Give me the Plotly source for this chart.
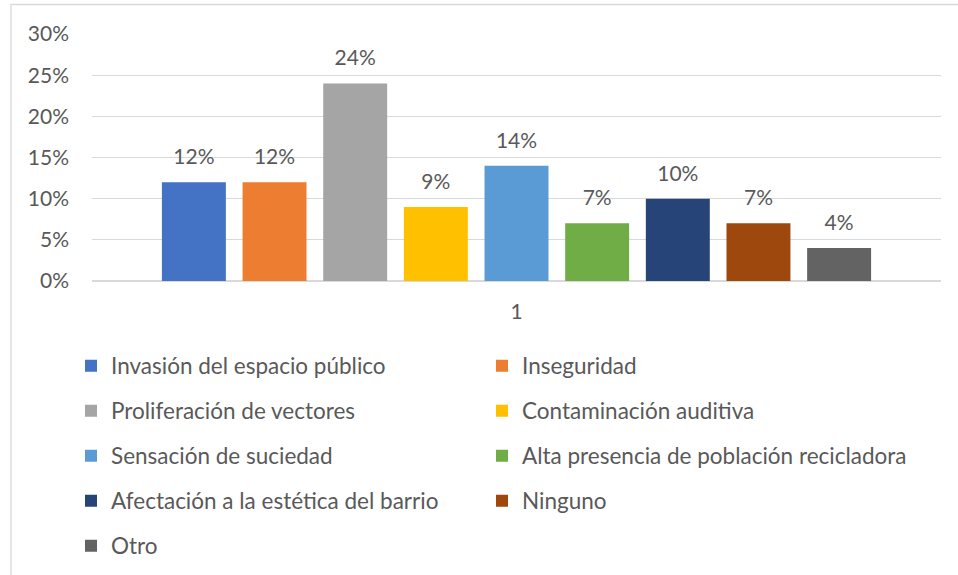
import plotly.graph_objects as go

categories = ["1"]
series_names = [
    "Invasión del espacio público",
    "Inseguridad",
    "Proliferación de vectores",
    "Contaminación auditiva",
    "Sensación de suciedad",
    "Alta presencia de población recicladora",
    "Afectación a la estética del barrio",
    "Ninguno",
    "Otro",
]
series_values = [0.12, 0.12, 0.24, 0.09, 0.14, 0.07, 0.10, 0.07, 0.04]
series_colors = ["#4472C4", "#ED7D31", "#A5A5A5", "#FFC000", "#5B9BD5",
                 "#70AD47", "#264478", "#9E480E", "#636363"]
y_tick_vals = [0, 0.05, 0.10, 0.15, 0.20, 0.25, 0.30]
y_tick_text = ["0%", "5%", "10%", "15%", "20%", "25%", "30%"]

FONT = "Lato"
TXT = "#595959"
FS = 21
LFS = 22.5

legend_ids = ["legend"] + ["legend%d" % k for k in range(2, len(series_names) + 1)]

fig = go.Figure()
for i, (name, val, col) in enumerate(zip(series_names, series_values, series_colors)):
    fig.add_trace(go.Bar(
        x=categories, y=[val], name=name,
        marker=dict(color=col, line=dict(width=0)),
        texttemplate='<span style="font-size:%dpx">%%{y:.0%%}</span><br>\u00a0' % FS,
        textposition="outside",
        textfont=dict(family=FONT, size=10, color=TXT),
        cliponaxis=False,
        legend=legend_ids[i],
        hoverinfo="skip",
    ))

# plot area: x 92..941, y 34..281
W, H = 958, 575
L, R, T, B = 92, 17, 34, 294
pw = W - L - R
ph = H - T - B

layout_legends = {}
row_centers = [366, 411, 456, 501, 546]
col_starts = [71, 482]
for i, lid in enumerate(legend_ids):
    r, c = divmod(i, 2)
    layout_legends[lid] = dict(
        orientation="h",
        x=(col_starts[c] - L) / pw, xanchor="left",
        y=(H - B - row_centers[r]) / ph, yanchor="middle",
        font=dict(family=FONT, size=LFS, color=TXT),
        bgcolor="rgba(0,0,0,0)",
        itemclick=False, itemdoubleclick=False,
    )

fig.update_layout(
    width=W, height=H,
    margin=dict(l=L, r=R, t=T, b=B, autoexpand=False),
    paper_bgcolor="white", plot_bgcolor="white",
    barmode="group", bargap=0.145, bargroupgap=0.207,
    font=dict(family=FONT, size=FS, color=TXT),
    showlegend=True,
    xaxis=dict(
        showgrid=False, showline=False, zeroline=False,
        ticks="", ticklabelstandoff=16,
        tickfont=dict(family=FONT, size=FS, color=TXT),
    ),
    yaxis=dict(
        range=[0, 0.30], tickvals=y_tick_vals, ticktext=y_tick_text,
        showgrid=True, gridcolor="#D9D9D9", gridwidth=1.3,
        zeroline=True, zerolinecolor="#D9D9D9", zerolinewidth=1.3,
        showline=False, ticks="", ticklabelstandoff=22,
        tickfont=dict(family=FONT, size=FS, color=TXT),
    ),
    shapes=[dict(
        type="rect", xref="paper", yref="paper",
        x0=(11 - L) / pw, x1=(W + 5 - L) / pw,
        y0=(H - B - (H + 5)) / ph, y1=(H - B - 4.5) / ph,
        line=dict(color="#D9D9D9", width=1.3), fillcolor="rgba(0,0,0,0)",
        layer="below",
    )],
    **layout_legends,
)

fig.write_html(
    "out.html",
    config={"displayModeBar": False, "staticPlot": True},
    post_script="document.body.style.margin='0';document.body.style.overflow='hidden';",
)
